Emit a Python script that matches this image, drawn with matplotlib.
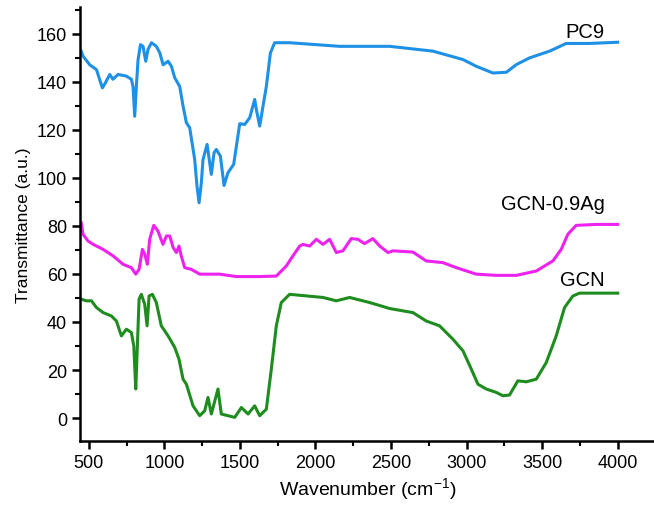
import matplotlib
matplotlib.use("Agg")
import matplotlib.pyplot as plt
from matplotlib.ticker import MultipleLocator

plt.rcParams['font.family'] = ['Liberation Sans', 'DejaVu Sans']
plt.rcParams['mathtext.default'] = 'regular'

# PC9 spectrum (wavenumber, transmittance)
pc9_wn = [450, 462, 507, 551, 590, 610, 639, 660, 694, 749, 782, 793, 804, 815, 826, 842,
          859, 877, 892, 915, 947, 970, 992, 1025, 1047, 1069, 1102, 1124, 1146, 1168, 1201,
          1216, 1230, 1245, 1256, 1283, 1311, 1329, 1344, 1371, 1395, 1421, 1459, 1477, 1499,
          1532, 1565, 1598, 1609, 1631, 1653, 1675, 1702, 1730, 1829, 2160, 2491, 2777, 2976,
          3064, 3174, 3263, 3329, 3417, 3549, 3659, 3813, 4000]
pc9_t = [152.7, 150.6, 147.0, 145.0, 137.4, 139.5, 143.0, 141.0, 143.0, 142.3, 141.0, 138.0,
         125.6, 138.0, 149.0, 155.4, 154.7, 148.5, 153.4, 156.2, 154.7, 152.0, 147.0, 148.5,
         146.4, 141.6, 138.0, 129.8, 122.9, 120.8, 107.6, 96.6, 89.6, 98.0, 107.6, 113.9,
         101.4, 110.4, 111.8, 109.0, 96.8, 102.1, 105.6, 113.2, 122.5, 122.2, 125.0, 132.6,
         128.4, 121.5, 129.8, 138.0, 152.0, 156.2, 156.2, 154.7, 154.7, 152.7, 149.2, 146.4,
         143.6, 143.9, 147.1, 149.9, 152.7, 155.9, 155.9, 156.4]

# GCN-0.9Ag spectrum
ag_wn = [450, 462, 495, 529, 595, 661, 727, 782, 811, 833, 855, 870, 888, 903, 930, 958,
         991, 1014, 1036, 1058, 1080, 1097, 1112, 1135, 1179, 1234, 1300, 1366, 1477, 1631,
         1741, 1807, 1851, 1896, 1917, 1962, 2006, 2050, 2094, 2138, 2182, 2237, 2281, 2325,
         2380, 2425, 2480, 2513, 2645, 2733, 2843, 2932, 3064, 3196, 3329, 3461, 3571, 3626,
         3670, 3725, 3857, 4000]
ag_t = [81.3, 76.5, 73.7, 72.3, 70.2, 67.5, 64.0, 62.6, 59.9, 61.9, 70.2, 68.2, 64.0, 74.4,
        80.2, 77.8, 72.3, 75.8, 75.8, 71.0, 68.9, 71.6, 67.5, 62.6, 61.9, 59.9, 59.9, 59.9,
        58.9, 58.9, 59.1, 63.3, 67.5, 71.6, 72.3, 71.6, 74.4, 72.3, 74.4, 68.9, 69.6, 74.7,
        74.4, 72.6, 74.7, 71.6, 68.9, 69.6, 69.1, 65.4, 64.7, 62.6, 59.9, 59.4, 59.4, 61.2,
        65.4, 70.2, 76.5, 80.2, 80.6, 80.6]

# GCN spectrum
gcn_wn = [450, 484, 518, 551, 595, 650, 683, 716, 749, 782, 798, 811, 820, 833, 848, 870,
          886, 899, 921, 947, 980, 1025, 1069, 1097, 1124, 1146, 1190, 1234, 1267, 1289, 1311,
          1355, 1377, 1421, 1466, 1510, 1554, 1598, 1631, 1675, 1708, 1741, 1774, 1829, 2050,
          2138, 2226, 2358, 2491, 2645, 2733, 2821, 2910, 2976, 3031, 3075, 3130, 3196, 3240,
          3284, 3339, 3395, 3461, 3527, 3593, 3648, 3703, 3747, 4000]
gcn_t = [49.5, 48.8, 48.8, 46.0, 43.9, 42.5, 40.4, 34.2, 37.0, 35.6, 30.0, 12.1, 27.3, 49.5,
         51.5, 47.4, 38.4, 50.8, 51.5, 48.1, 38.4, 34.2, 29.4, 24.5, 16.2, 14.1, 5.1, 1.0, 3.0,
         8.6, 1.7, 12.1, 1.7, 1.0, 0.3, 4.4, 1.7, 5.1, 1.0, 3.7, 20.4, 38.4, 48.1, 51.5, 50.2,
         48.8, 50.2, 48.1, 45.6, 43.9, 40.4, 38.4, 32.8, 28.0, 20.4, 14.1, 12.1, 10.7, 9.3,
         9.6, 15.5, 15.1, 16.2, 23.1, 34.2, 46.0, 50.8, 52.0, 52.0]

labels = ["PC9", "GCN-0.9Ag", "GCN"]
label_pos = [(3913, 161.0), (3913, 89.4), (3913, 57.6)]
colors = ["#1e90e6", "#ee22ee", "#1f8c1f"]

fig = plt.figure(figsize=(6.54, 5.10), dpi=100)
ax = fig.add_axes([0.123, 0.133, 0.877, 0.851])

for wn, t, c in zip([pc9_wn, ag_wn, gcn_wn], [pc9_t, ag_t, gcn_t], colors):
    ax.plot(wn, t, color=c, lw=2.2, solid_joinstyle='round')

for lab, (x, y) in zip(labels, label_pos):
    ax.text(x, y, lab, ha='right', va='center', fontsize=14.5)

ax.set_xlim(445, 4240)
ax.set_ylim(-9.6, 171)
ax.xaxis.set_major_locator(MultipleLocator(500))
ax.xaxis.set_minor_locator(MultipleLocator(250))
ax.yaxis.set_major_locator(MultipleLocator(20))
ax.yaxis.set_minor_locator(MultipleLocator(10))

for s in ['top', 'right']:
    ax.spines[s].set_visible(False)
for s in ['left', 'bottom']:
    ax.spines[s].set_linewidth(1.8)

ax.tick_params(which='major', direction='out', length=6, width=1.8, labelsize=13)
ax.tick_params(which='minor', direction='out', length=3.5, width=1.5)

ax.set_xlabel("Wavenumber (cm$^{-1}$)", fontsize=14, labelpad=3)
ax.set_ylabel("Transmittance (a.u.)", fontsize=12.5, labelpad=4)

fig.savefig("out.png", dpi=100)
